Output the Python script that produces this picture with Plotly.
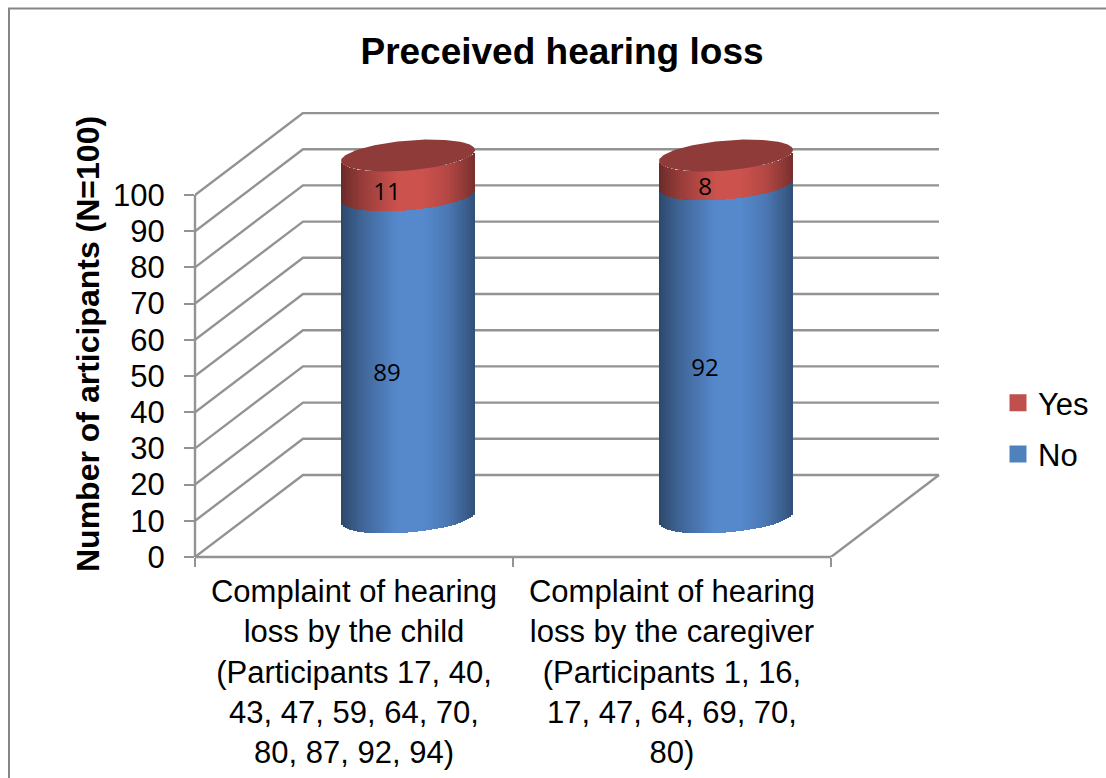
import numpy as np
import plotly.graph_objects as go

categories = ["Complaint of hearing<br>loss by the child<br>(Participants 17, 40,<br>43, 47, 59, 64, 70,<br>80, 87, 92, 94)",
              "Complaint of hearing<br>loss by the caregiver<br>(Participants 1, 16,<br>17, 47, 64, 69, 70,<br>80)"]
no_values = [89, 92]
yes_values = [11, 8]
y_ticks = list(range(0, 101, 10))

W, H = 1106, 778
L, R, T, B = 195, 940, 112, 557      # plot box in pixels
PX_X, PX_Y = 318.0, 3.62             # pixels per data unit
DX, DY = 108 / PX_X, 82 / PX_Y       # depth offset of the back wall
GRID = "#939393"
RX, TILT, RY = 67 / PX_X, 5.5 / PX_Y, 15.0 / PX_Y   # cylinder ellipse
SHIFT_X, LIFT = (408 - 354) / PX_X, 39.5 / PX_Y     # cylinder position on the floor

n_cat = len(categories)
centers = [i + 0.5 + SHIFT_X for i in range(n_cat)]
cat_pos = [i + 0.5 for i in range(n_cat)]


def shade(u, rgb_peak):
    f = np.interp(u, [0, .06, .2, .42, .62, .8, .94, 1], [.52, .62, .78, 1, 1, .88, .68, .58])
    return [f"rgb({int(rgb_peak[0]*a)},{int(rgb_peak[1]*a)},{int(rgb_peak[2]*a)})" for a in f]


N = 68
v = np.linspace(-1, 1, N, endpoint=False) + 1.0 / N
front = TILT * v - RY * np.sqrt(1 - v ** 2)   # front edge of an ellipse, relative to its centre
strip_w = 2 * RX / N * 1.25


def strips(low, vals):
    xs, bases, ys = [], [], []
    for c, lo, val in zip(centers, low, vals):
        xs.extend(c + RX * v)
        bases.extend(LIFT + lo + front)
        ys.extend([val] * N)
    return xs, bases, ys


fig = go.Figure()
# legend-bearing series (the shaded strips lie over them)
fig.add_trace(go.Bar(x=centers, y=no_values, base=[LIFT] * n_cat, width=RX, name="No", legendrank=2,
                     legendgroup="no", marker=dict(color="#4F81BD", line=dict(color="#4F81BD", width=5))))
fig.add_trace(go.Bar(x=centers, y=yes_values, base=[LIFT + n for n in no_values], width=RX, name="Yes", legendrank=1,
                     legendgroup="yes", marker=dict(color="#C0504D", line=dict(color="#C0504D", width=5))))

xs, bs, ys = strips([0] * n_cat, no_values)
fig.add_trace(go.Bar(x=xs, y=ys, base=bs, width=strip_w, showlegend=False, hoverinfo="skip",
                     marker=dict(color=shade((v + 1) / 2, (86, 137, 204)) * n_cat, line=dict(width=0))))
xs, bs, ys = strips(no_values, yes_values)
fig.add_trace(go.Bar(x=xs, y=ys, base=bs, width=strip_w, showlegend=False, hoverinfo="skip",
                     marker=dict(color=shade((v + 1) / 2, (204, 82, 78)) * n_cat, line=dict(width=0))))

# top caps
t = np.linspace(0, 2 * np.pi, 121)
for c, n, y in zip(centers, no_values, yes_values):
    fig.add_trace(go.Scatter(x=c + RX * np.cos(t), y=LIFT + n + y + TILT * np.cos(t) + RY * np.sin(t),
                             mode="lines", fill="toself", fillcolor="#8E3B39", line=dict(width=0, color="#8E3B39"),
                             showlegend=False, hoverinfo="skip"))

# data labels
lab_dx, lab_dy = 21 / PX_X, 19 / PX_Y
lab_x, lab_y, lab_t = [], [], []
for c, n, y in zip(centers, no_values, yes_values):
    lab_x += [c - lab_dx, c - lab_dx]
    lab_y += [LIFT + n / 2 - lab_dy, LIFT + n + y / 2 - lab_dy]
    lab_t += [str(n), str(y)]
fig.add_trace(go.Scatter(x=lab_x, y=lab_y, text=lab_t, mode="text", textposition="middle center",
                         textfont=dict(family="Open Sans", size=24, color="black"),
                         showlegend=False, hoverinfo="skip"))

# 3-D walls: gridlines and floor as below-trace shapes
shapes = []
line = dict(color=GRID, width=2.4)
for tick in y_ticks:
    p = f"M 0 {tick} L {DX} {tick + DY} L {n_cat + DX} {tick + DY}"
    shapes.append(dict(type="path", path=p, xref="x", yref="y", line=line, layer="below"))
shapes.append(dict(type="path", path=f"M {n_cat} 0 L {n_cat + DX} {DY}", xref="x", yref="y", line=line, layer="below"))
shapes.append(dict(type="line", x0=0, x1=n_cat, y0=0, y1=0, xref="x", yref="paper", line=line, layer="below"))
shapes.append(dict(type="line", x0=0, x1=0, y0=0, y1=100, xref="paper", yref="y", line=line, layer="below"))

# outer frame
px = lambda x: (x - L) / (R - L)
py = lambda y: (B - y) / (B - T)
shapes.append(dict(type="path", xref="paper", yref="paper", layer="below",
                   path=f"M {px(9)} {py(778)} L {px(9)} {py(8.5)} L {px(1106)} {py(8.5)}",
                   line=dict(color="#868686", width=2)))

fig.update_layout(
    width=W, height=H, margin=dict(l=L, r=W - R, t=T, b=H - B, autoexpand=False),
    paper_bgcolor="white", plot_bgcolor="rgba(0,0,0,0)", barmode="overlay", bargap=0,
    font=dict(family="Liberation Sans", color="black"),
    title=dict(text="<b>Preceived hearing loss</b>", x=562 / W, xanchor="center", y=1 - 51 / H, yanchor="middle",
               font=dict(size=37, color="black")),
    xaxis=dict(range=[0, (R - L) / PX_X], tickmode="array", tickvals=cat_pos, ticktext=categories,
               showgrid=False, zeroline=False, showline=False, ticks="", tickangle=0, ticklabelstandoff=13,
               tickfont=dict(size=31, color="black"),
               minor=dict(tickmode="array", tickvals=list(range(n_cat + 1)), ticks="outside", ticklen=9,
                          tickwidth=2, tickcolor=GRID)),
    yaxis=dict(range=[0, (B - T) / PX_Y], tickmode="array", tickvals=y_ticks, showgrid=False, zeroline=False,
               showline=False, ticks="outside", ticklen=10, tickwidth=2, tickcolor=GRID, ticklabelstandoff=13,
               tickfont=dict(size=31, color="black")),
    legend=dict(x=(998 - L) / (R - L), xanchor="left", y=py(376), yanchor="top", traceorder="grouped",
                tracegroupgap=8, font=dict(size=31, color="black"), bgcolor="rgba(0,0,0,0)"),
    annotations=[dict(text="<b>Number of articipants (N=100)</b>", xref="paper", yref="paper",
                      x=px(88), y=py(344), textangle=-90, showarrow=False, xanchor="center", yanchor="middle",
                      font=dict(size=32, color="black"))],
    shapes=shapes,
)
fig.write_html("out.html", config=dict(displayModeBar=False),
               post_script="document.body.style.margin='0';document.body.style.overflow='hidden';")
